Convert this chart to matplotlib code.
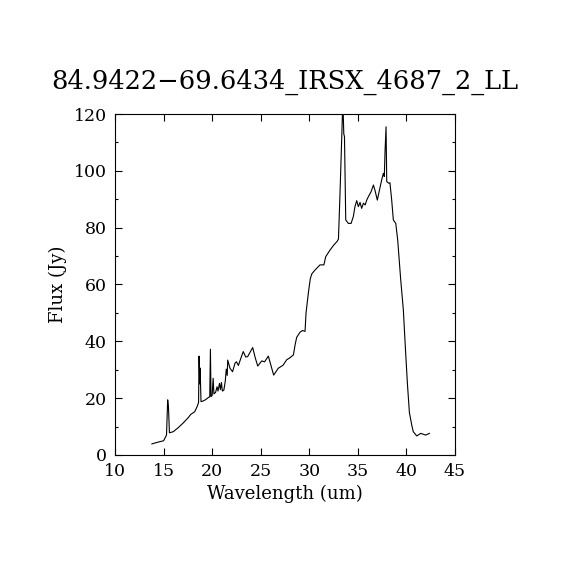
import numpy as np
import matplotlib
matplotlib.use("Agg")
import matplotlib.pyplot as plt
from matplotlib.ticker import MultipleLocator

title = "84.9422\u221269.6434_IRSX_4687_2_LL"

# spectrum
wavelength = [
    13.8, 14.4, 15.0, 15.3, 15.42, 15.5, 15.6, 16.0, 16.5, 17.0, 17.5, 17.8,
    18.2, 18.45, 18.6, 18.65, 18.72, 18.76, 18.85, 19.0, 19.3, 19.6, 19.75,
    19.82, 19.88, 20.0, 20.1, 20.18, 20.35, 20.5, 20.6, 20.75, 20.85, 20.95,
    21.05, 21.2, 21.35, 21.45, 21.55, 21.6, 21.84, 22.1, 22.35, 22.5, 22.7,
    23.0, 23.2, 23.45, 23.65, 24.17, 24.45, 24.69, 25.1, 25.4, 25.78, 26.33,
    26.8, 27.3, 27.67, 28.0, 28.36, 28.55, 28.7, 29.04, 29.3, 29.56, 29.66,
    29.9, 30.1, 30.25, 30.59, 31.1, 31.5, 31.69, 32.13, 32.5, 32.89, 33.0,
    33.16, 33.35, 33.45, 33.55, 33.62, 33.75, 34.02, 34.3, 34.53, 34.7,
    34.88, 35.05, 35.22, 35.39, 35.57, 35.75, 35.91, 36.08, 36.35, 36.6,
    36.77, 37.0, 37.27, 37.45, 37.62, 37.72, 37.8, 37.9, 37.97, 38.2, 38.3,
    38.48, 38.65, 38.9, 39.1, 39.4, 39.68, 39.9, 40.1, 40.3, 40.54, 40.7,
    41.06, 41.47, 41.98, 42.36,
]
flux = [
    3.9, 4.5, 5.0, 7.0, 19.4, 17.0, 7.8, 8.2, 9.6, 11.2, 13.0, 14.3,
    15.2, 17.0, 18.5, 34.8, 25.0, 30.6, 18.8, 18.9, 19.4, 20.2, 20.5,
    37.2, 20.5, 21.0, 27.0, 21.5, 22.0, 24.0, 22.5, 25.2, 23.0, 25.5,
    22.5, 22.8, 26.0, 30.2, 28.0, 33.4, 30.5, 29.3, 32.3, 32.8, 31.5,
    34.5, 36.4, 34.5, 34.6, 37.8, 34.0, 31.3, 33.1, 32.8, 34.8, 28.1,
    30.5, 31.6, 33.5, 34.2, 35.2, 39.0, 41.4, 43.2, 43.8, 43.5, 49.9,
    57.0, 62.0, 63.7, 65.1, 66.9, 66.9, 69.8, 72.1, 73.8, 75.3, 76.0,
    92.1, 113.0, 125.0, 113.0, 112.0, 82.7, 81.5, 81.5, 83.9, 87.4,
    89.5, 87.4, 88.9, 86.8, 88.6, 88.0, 89.7, 90.9, 92.6, 95.0,
    93.0, 89.7, 94.0, 96.8, 99.1, 98.0, 107.3, 115.5, 96.2, 95.6, 95.8,
    89.7, 82.7, 81.5, 75.6, 62.0, 51.0, 37.0, 25.0, 15.0, 10.6, 8.2,
    6.7, 7.6, 7.0, 7.6,
]

plt.rcParams["font.family"] = "DejaVu Serif"

fig = plt.figure(figsize=(5.7, 5.7), dpi=100)
ax = fig.add_axes([0.2018, 0.2018, 0.5965, 0.5982])
ax.plot(wavelength, flux, color="black", lw=0.8)

ax.set_xlim(10, 45)
ax.set_ylim(0, 120)
ax.xaxis.set_major_locator(MultipleLocator(5))
ax.yaxis.set_major_locator(MultipleLocator(20))
ax.yaxis.set_minor_locator(MultipleLocator(10))
ax.tick_params(which="both", direction="in", top=True, right=True,
               labelsize=12.5, width=0.8)
ax.tick_params(which="major", length=5, pad=6)
ax.tick_params(which="minor", length=2.5)
for s in ax.spines.values():
    s.set_linewidth(0.8)

ax.set_xlabel("Wavelength (um)", fontsize=13, labelpad=3)
ax.set_ylabel("Flux (Jy)", fontsize=13, labelpad=5)
ax.set_title(title, fontsize=18.5, pad=18)

fig.savefig("out.png", dpi=100)
